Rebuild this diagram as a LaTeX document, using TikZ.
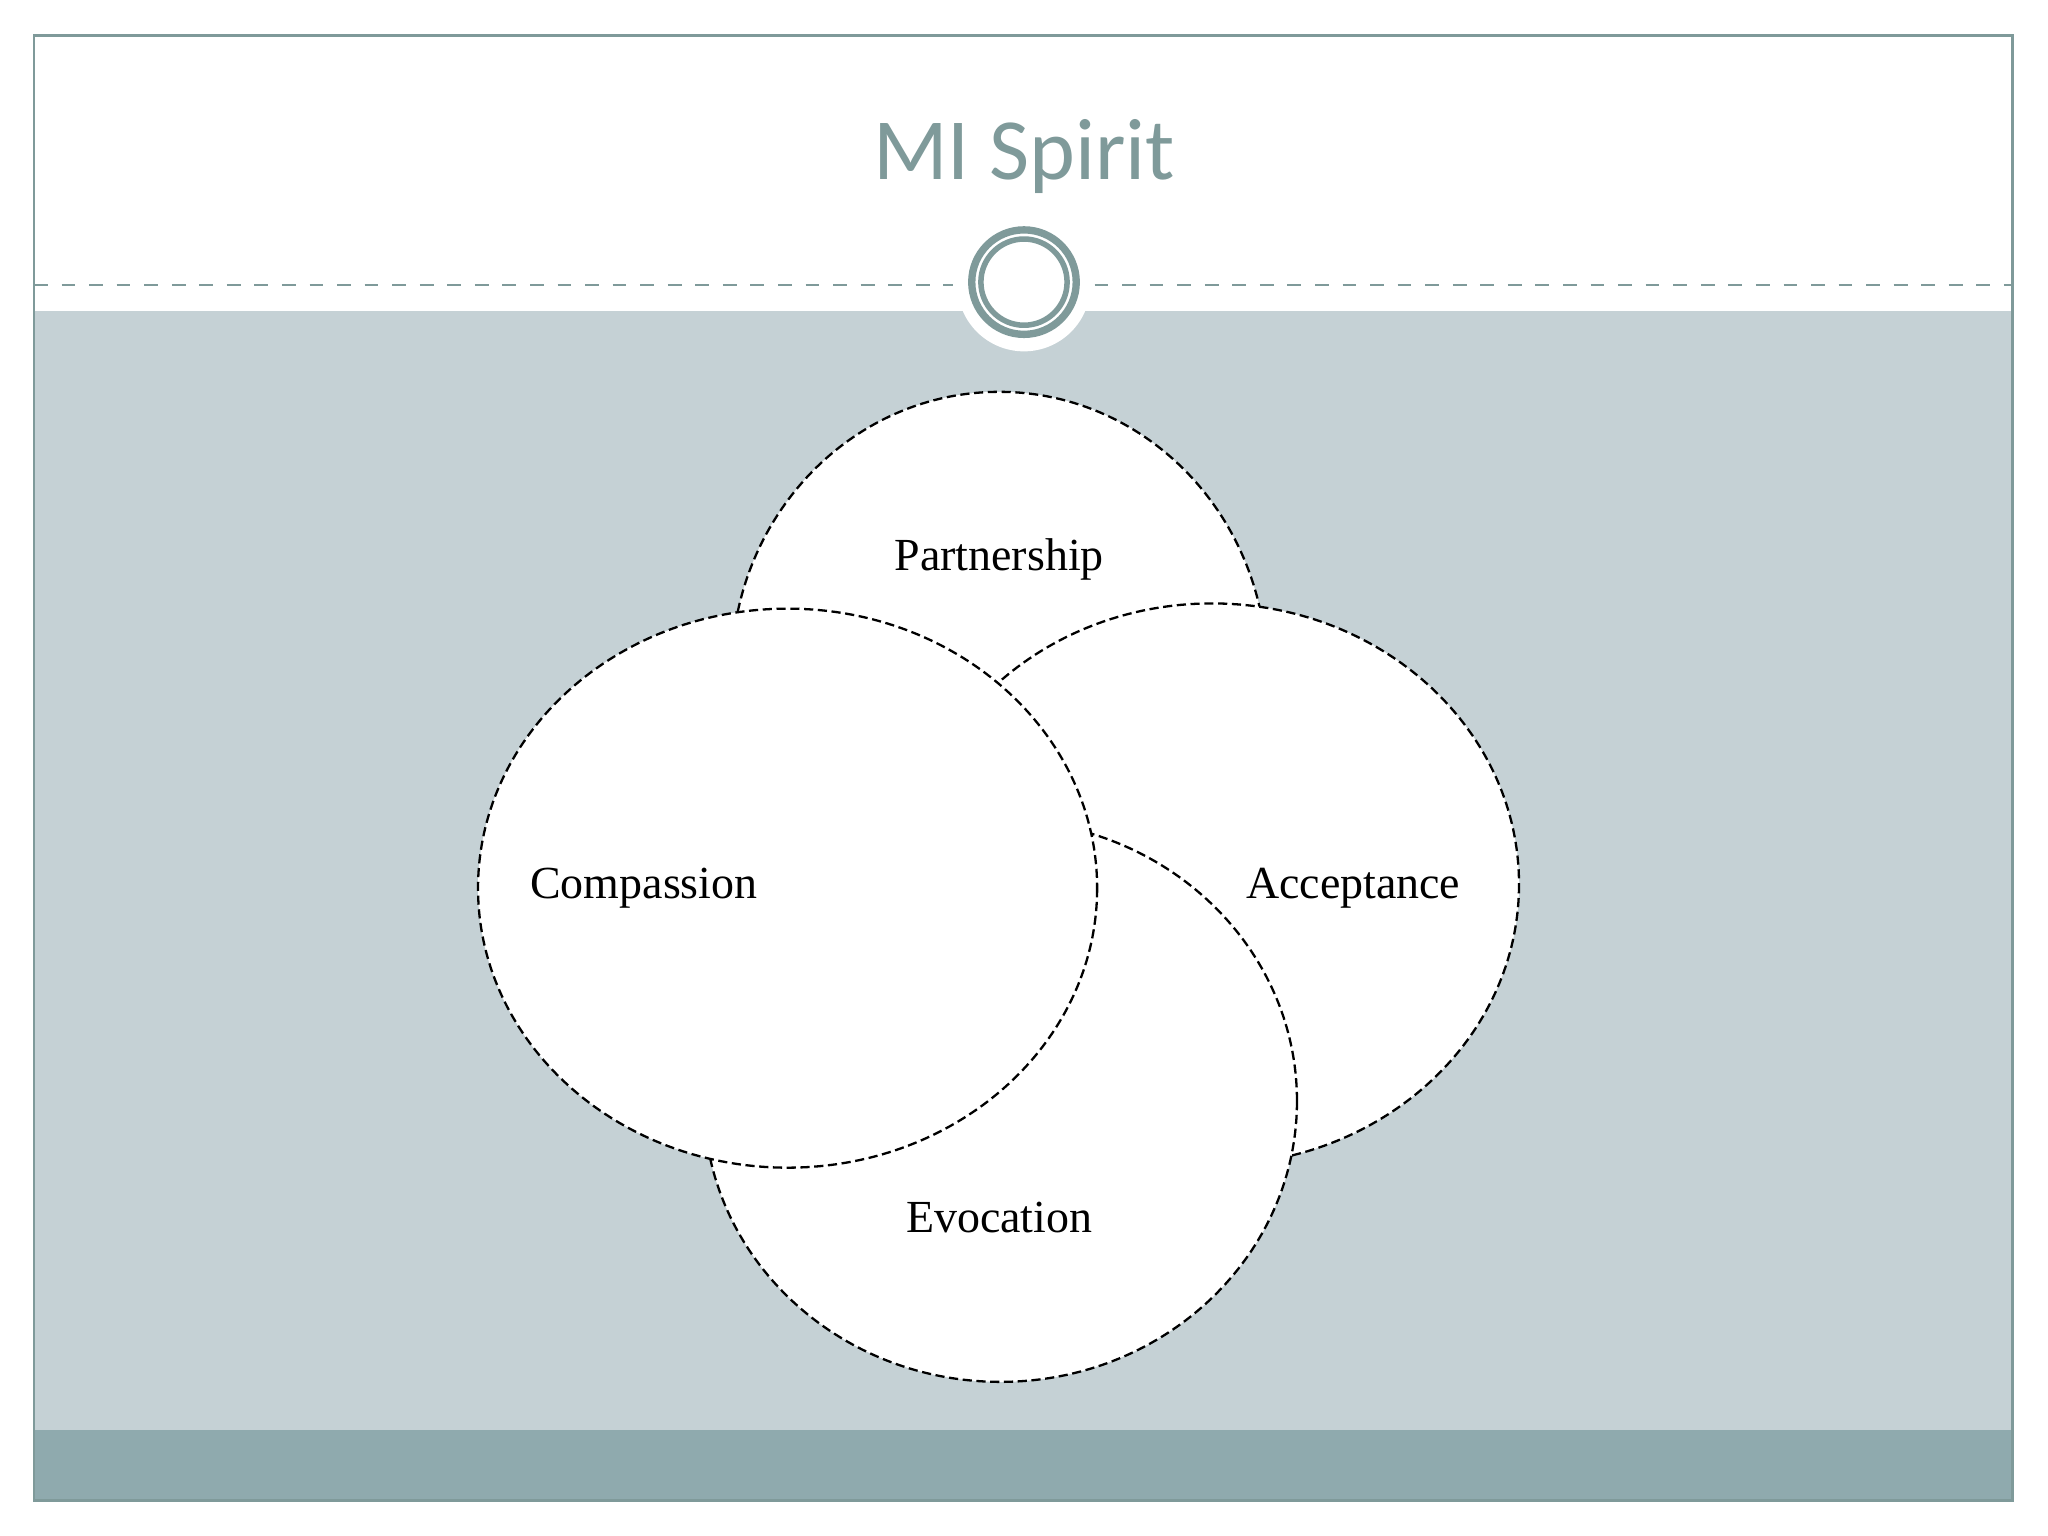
\documentclass[tikz,border=0pt]{standalone}
\usepackage{fontspec}
\setmainfont{Liberation Serif}
\newfontfamily\titlefont{Carlito}
\begin{document}
\begin{tikzpicture}[x=0.01cm,y=-0.01cm,
  venn/.style={draw=black,fill=white,dash pattern=on 2pt off 1pt,line width=0.5pt},
  lbl/.style={font=\fontsize{10pt}{12pt}\selectfont,text=black}]
\definecolor{teal}{HTML}{7F9A9A}
\definecolor{body}{HTML}{C5D1D5}
\definecolor{band}{HTML}{8FAAAE}
\useasboundingbox (0,0) rectangle (1568,1176);
\fill[white] (0,0) rectangle (1568,1176);
\fill[body] (26,238) rectangle (1541,1095);
\fill[band] (26,1095) rectangle (1541,1149);
\draw[teal,line width=0.6pt] (26,27) rectangle (1541,1149);
\coordinate (dl) at (26,218); \coordinate (dlm) at (730,218);
\coordinate (drm) at (838,218); \coordinate (dr) at (1541,218);
\draw[teal,dashed,line width=0.5pt] (dl) -- (dlm);
\draw[teal,dashed,line width=0.5pt] (drm) -- (dr);
\fill[white] (784,218) circle (51);
\draw[teal,line width=1.6pt] (784,216) circle (40);
\draw[teal,line width=1.2pt] (784,216) circle (33);
\node[text=teal,font=\titlefont\fontsize{19pt}{22pt}\selectfont] (title) at (784,120) {MI Spirit};
\draw[venn] (765,515) ellipse (205 and 215);
\draw[venn] (928,677) ellipse (235 and 215);
\draw[venn] (766,843) ellipse (227 and 215);
\draw[venn] (603,680) ellipse (237 and 214);
\node[lbl] (tp) at (765,428) {Partnership};
\node[lbl] (tc) at (493,680) {Compassion};
\node[lbl] (ta) at (1036,680) {Acceptance};
\node[lbl] (te) at (765,932) {Evocation};
\end{tikzpicture}
\end{document}
